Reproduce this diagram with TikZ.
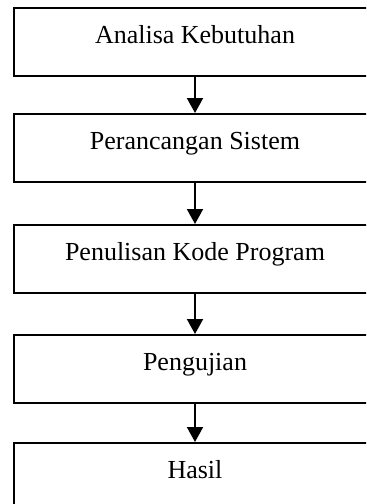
\documentclass[tikz,border=0pt]{standalone}
\usepackage{fontspec}
\setmainfont{Liberation Serif}
\usetikzlibrary{arrows.meta}
\tikzset{
  stagebox/.style={draw=black, line width=1pt, anchor=north west, inner sep=0pt,
    minimum width=181pt, minimum height=34pt, text height=17.5pt, text depth=16.5pt,
    font=\fontsize{13}{15}\selectfont},
  flowarrow/.style={draw=black, line width=1pt, -{Triangle[width=8pt,length=7.5pt]}}
}
\begin{document}
\begin{tikzpicture}[x=0.5pt,y=-0.5pt]
\useasboundingbox (0,0) rectangle (366,504);
\clip (0,0) rectangle (366,504);
\node[stagebox, minimum height=34pt] (a) at (13,7) {Analisa Kebutuhan};
\node[stagebox, minimum height=33.5pt] (b) at (13,113) {Perancangan Sistem};
\node[stagebox, minimum height=33.5pt] (c) at (13,224) {Penulisan Kode Program};
\node[stagebox, minimum height=34pt] (d) at (13,334) {Pengujian};
\node[stagebox, minimum height=34pt] (e) at (13,442) {Hasil};
\draw[flowarrow] (a.south) -- (b.north);
\draw[flowarrow] (b.south) -- (c.north);
\draw[flowarrow] (c.south) -- (d.north);
\draw[flowarrow] (d.south) -- (e.north);
\end{tikzpicture}
\end{document}
